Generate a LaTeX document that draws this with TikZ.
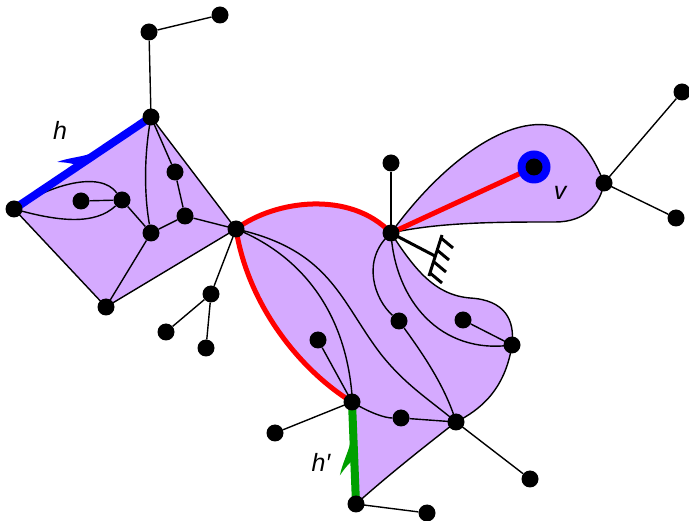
\documentclass[tikz,border=0pt]{standalone}
\usepackage{fontspec}
\setmainfont{Liberation Sans}
\usetikzlibrary{decorations.markings}
\definecolor{lilac}{HTML}{D5AAFF}
\definecolor{hgreen}{HTML}{00A000}
\begin{document}
\begin{tikzpicture}[
		x=1pt, y=-1pt,
		vtx/.style={circle, fill=black, inner sep=0pt, minimum size=17pt},
		ring/.style={circle, fill=blue, inner sep=0pt, minimum size=33pt},
		edge/.style={line width=1.4pt},
		face/.style={fill=lilac, draw=none},
		rakeline/.style={line width=3pt},
		lbl/.style={font=\fontsize{25}{30}\selectfont\itshape, inner sep=0pt},
		barb/.style n args={2}{postaction={decorate}, decoration={markings,
			mark=at position #1 with {\fill[#2] (1pt,3pt) .. controls (-10pt,6pt) and (-20pt,12pt) .. (-32pt,15pt)
				.. controls (-24pt,9pt) and (-20pt,5pt) .. (-18pt,2pt) -- cycle;}}}
	]
	\useasboundingbox (0,0) rectangle (689,521);
	\coordinate (a) at (151,117);
	\coordinate (l) at (14,209);
	\coordinate (b) at (106,307);
	\coordinate (c) at (236,229);
	\coordinate (e) at (391,233);
	\coordinate (f) at (352,402);
	\coordinate (g) at (456,422);
	\coordinate (h) at (512,345);
	\coordinate (p) at (356,504);
	\coordinate (w) at (604,183);
	\coordinate (v) at (534,167);

	\fill[lilac] (a) -- (c) -- (b) -- (l) -- cycle;
	\fill[lilac] (c) .. controls (275,200) and (350,190) .. (e)
		.. controls (415,270) and (435,295) .. (470,298)
		.. controls (505,300) and (515,320) .. (h)
		.. controls (505,390) and (480,410) .. (g)
		.. controls (420,450) and (385,478) .. (p)
		-- (f) .. controls (300,370) and (248,305) .. (c);
	\fill[lilac] (e) .. controls (440,165) and (510,110) .. (560,128)
		.. controls (585,138) and (598,168) .. (w)
		.. controls (600,205) and (585,222) .. (555,222)
		.. controls (500,222) and (440,222) .. (e);

	\node[vtx] (t1) at (149,32) {};
	\node[vtx] (t2) at (220,15) {};
	\node[vtx] (n1) at (81,201) {};
	\node[vtx] (n2) at (122,200) {};
	\node[vtx] (n3) at (151,233) {};
	\node[vtx] (n4) at (175,172) {};
	\node[vtx] (n5) at (185,216) {};
	\node[vtx] (d1) at (211,294) {};
	\node[vtx] (d2) at (166,332) {};
	\node[vtx] (d3) at (206,348) {};
	\node[vtx] (k) at (318,340) {};
	\node[vtx] (i) at (399,321) {};
	\node[vtx] (j) at (463,320) {};
	\node[vtx] (m) at (401,418) {};
	\node[vtx] (y) at (391,163) {};
	\node[vtx] (z) at (275,433) {};
	\node[vtx] (gz) at (530,479) {};
	\node[vtx] (pz) at (427,513) {};
	\node[vtx] (wa) at (682,92) {};
	\node[vtx] (wb) at (676,218) {};

	\draw[edge] (a) -- (c) -- (b) -- (l);
	\draw[edge] (l) .. controls (50,185) and (100,170) .. (n2);
	\draw[edge] (l) .. controls (60,222) and (95,225) .. (n2);
	\draw[edge] (n1) -- (n2) -- (n3) -- (b);
	\draw[edge] (a) .. controls (143,160) and (145,200) .. (n3);
	\draw[edge] (a) -- (n4) -- (n5) -- (n3);
	\draw[edge] (n5) -- (c);
	\draw[edge] (t2) -- (t1) -- (a);
	\draw[edge] (c) -- (d1) -- (d2);
	\draw[edge] (d1) -- (d3);
	\draw[edge] (c) .. controls (300,255) and (345,310) .. (352,395);
	\draw[edge] (c) .. controls (330,250) and (340,300) .. (380,353) .. controls (405,385) and (430,400) .. (g);
	\draw[edge] (k) -- (f);
	\draw[edge] (f) .. controls (370,413) and (385,418) .. (m) -- (g);
	\draw[edge] (e) .. controls (360,260) and (375,300) .. (i);
	\draw[edge] (i) .. controls (420,350) and (445,385) .. (g);
	\draw[edge] (e) .. controls (395,300) and (440,355) .. (h);
	\draw[edge] (j) -- (h);
	\draw[edge] (e) .. controls (415,270) and (435,295) .. (470,298)
		.. controls (505,300) and (515,320) .. (h)
		.. controls (505,390) and (480,410) .. (g)
		.. controls (420,450) and (385,478) .. (p);
	\draw[edge] (e) .. controls (440,165) and (510,110) .. (560,128)
		.. controls (585,138) and (598,168) .. (w)
		.. controls (600,205) and (585,222) .. (555,222)
		.. controls (500,222) and (440,222) .. (e);
	\draw[edge] (e) -- (y);
	\draw[edge] (f) -- (z);
	\draw[edge] (g) -- (gz);
	\draw[edge] (p) -- (pz);
	\draw[edge] (wa) -- (w) -- (wb);

	\draw[rakeline] (e) -- (435,256);
	\draw[rakeline] (442,235) -- (429,276);
	\foreach \px/\py in {441/238, 437/250, 434/262, 430/273}
		\draw[rakeline] (\px,\py) -- ++(12,10);

	\draw[red, line width=5pt] (f) .. controls (300,370) and (248,305) .. (c)
		.. controls (275,200) and (350,190) .. (e) -- (v);
	\draw[blue, line width=8pt, barb={0.57}{blue}] (l) -- (a);
	\draw[hgreen, line width=8pt, barb={0.6}{hgreen}] (p) -- (f);

	\node[ring] (vr) at (v) {};
	\node[vtx] (vv) at (v) {};
	\node[vtx] (av) at (a) {};
	\node[vtx] (lv) at (l) {};
	\node[vtx] (bv) at (b) {};
	\node[vtx] (cv) at (c) {};
	\node[vtx] (ev) at (e) {};
	\node[vtx] (fv) at (f) {};
	\node[vtx] (gv) at (g) {};
	\node[vtx] (hv) at (h) {};
	\node[vtx] (pv) at (p) {};
	\node[vtx] (wv) at (w) {};

	\node[lbl] (hl) at (60,130) {h};
	\node[lbl] (vl) at (560,193) {v};
	\node[lbl] (hpl) at (321,462) {h′};
\end{tikzpicture}
\end{document}
